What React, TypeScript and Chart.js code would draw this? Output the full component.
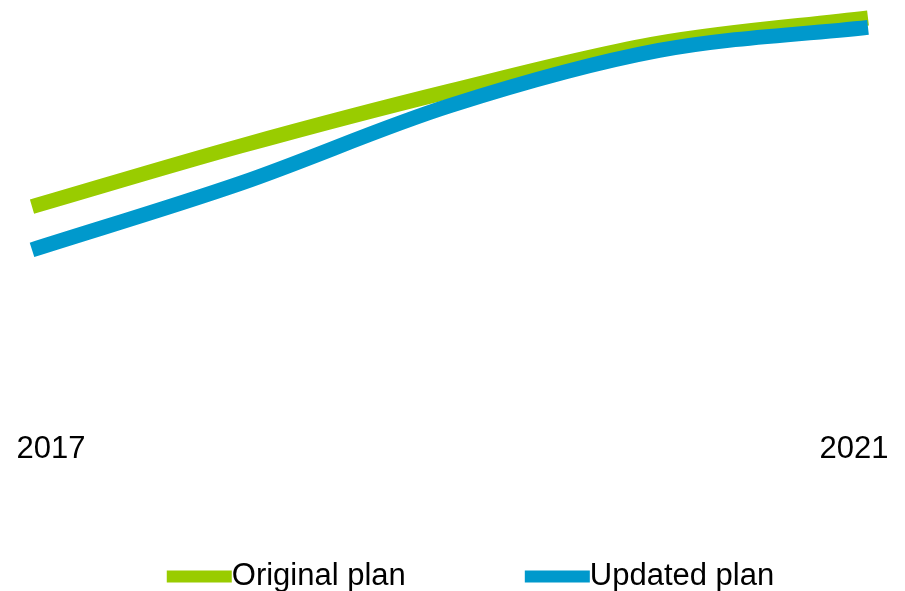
import React, { useEffect, useRef } from 'react';
import { Chart, registerables } from 'chart.js';

Chart.register(...registerables);

// ---- data ----
const years: string[] = ['2017', '2018', '2019', '2020', '2021'];
const originalPlan: number[] = [51.7, 65.9, 78.7, 89.9, 95.8];
const updatedPlan: number[] = [41.6, 57.2, 75.3, 88.2, 93.6];
const seriesNames: string[] = ['Original plan', 'Updated plan'];
const seriesColors: string[] = ['#99CC00', '#0099CC'];

// ---- styling ----
const FONT = '"Liberation Sans", Arial, Helvetica, sans-serif';
const FONT_SIZE = 31;
const LEGEND_BOX = 78.5; // legend box slot (invisible), marker drawn by plugin
const LEGEND_PAD = 90;
const MARKER_W = 65;
const MARKER_H = 12;

const legendMarkers = {
  id: 'legendMarkers',
  afterDraw(chart: any) {
    const legend = chart.legend;
    if (!legend || !legend.legendHitBoxes || !legend.legendItems) return;
    const ctx = chart.ctx;
    ctx.save();
    legend.legendHitBoxes.forEach((hb: any, i: number) => {
      const item = legend.legendItems[i];
      const textX = hb.left + LEGEND_BOX + FONT_SIZE / 2;
      const cy = hb.top + hb.height / 2;
      ctx.fillStyle = seriesColors[item.datasetIndex];
      ctx.fillRect(textX - MARKER_W, cy - MARKER_H / 2, MARKER_W, MARKER_H);
    });
    ctx.restore();
  },
};

const spacer = (w: number) => ({
  display: true,
  grid: { display: false, drawTicks: false },
  border: { display: false },
  ticks: { display: false },
  afterFit: (s: any) => {
    s.width = w;
  },
});

export default function App() {
  const canvasRef = useRef<HTMLCanvasElement | null>(null);

  useEffect(() => {
    if (!canvasRef.current) return;
    Chart.defaults.font.family = FONT;
    const lastIdx = years.length - 1;
    const chart = new Chart(canvasRef.current, {
      type: 'line',
      data: {
        labels: years,
        datasets: [
          {
            label: seriesNames[0],
            data: originalPlan,
            borderColor: seriesColors[0],
            backgroundColor: seriesColors[0],
            borderWidth: 15,
            pointRadius: 0,
            pointHoverRadius: 0,
            cubicInterpolationMode: 'monotone',
            fill: false,
            order: 1,
          },
          {
            label: seriesNames[1],
            data: updatedPlan,
            borderColor: seriesColors[1],
            backgroundColor: seriesColors[1],
            borderWidth: 15,
            pointRadius: 0,
            pointHoverRadius: 0,
            cubicInterpolationMode: 'monotone',
            fill: false,
            order: 0,
          },
        ],
      },
      options: {
        responsive: false,
        animation: false,
        layout: { padding: { left: 7, right: 0, top: 0, bottom: -11 } },
        plugins: {
          tooltip: { enabled: false },
          legend: {
            position: 'bottom',
            labels: {
              boxWidth: LEGEND_BOX,
              padding: LEGEND_PAD,
              color: '#000',
              font: { size: FONT_SIZE, family: FONT },
              sort: (a: any, b: any) => a.datasetIndex - b.datasetIndex,
              generateLabels: (c: any) =>
                (Chart.defaults.plugins.legend.labels.generateLabels as any)(c).map((l: any) => ({
                  ...l,
                  fillStyle: 'rgba(0,0,0,0)',
                  strokeStyle: 'rgba(0,0,0,0)',
                  lineWidth: 0,
                })),
            },
          },
        },
        scales: {
          x: { display: false },
          yearAxis: {
            type: 'linear',
            position: 'bottom',
            min: -0.095,
            max: lastIdx + 0.07,
            grid: { display: false, drawTicks: false },
            border: { display: false },
            afterBuildTicks: (s: any) => {
              s.ticks = [{ value: 0 }, { value: lastIdx }];
            },
            ticks: {
              color: '#000',
              padding: 3,
              maxRotation: 0,
              autoSkip: false,
              font: { size: FONT_SIZE, family: FONT },
              callback: (v: any) => years[Math.round(Number(v))],
            },
          },
          y: { ...spacer(25), position: 'left', min: 0, max: 100 },
          yRight: { ...spacer(37), type: 'linear', position: 'right' },
        },
      },
      plugins: [legendMarkers],
    } as any);
    return () => chart.destroy();
  }, []);

  return (
    <div style={{ position: 'fixed', left: 0, top: 0, width: 905, height: 591, background: '#fff' }}>
      <canvas ref={canvasRef} width={905} height={591} />
    </div>
  );
}
